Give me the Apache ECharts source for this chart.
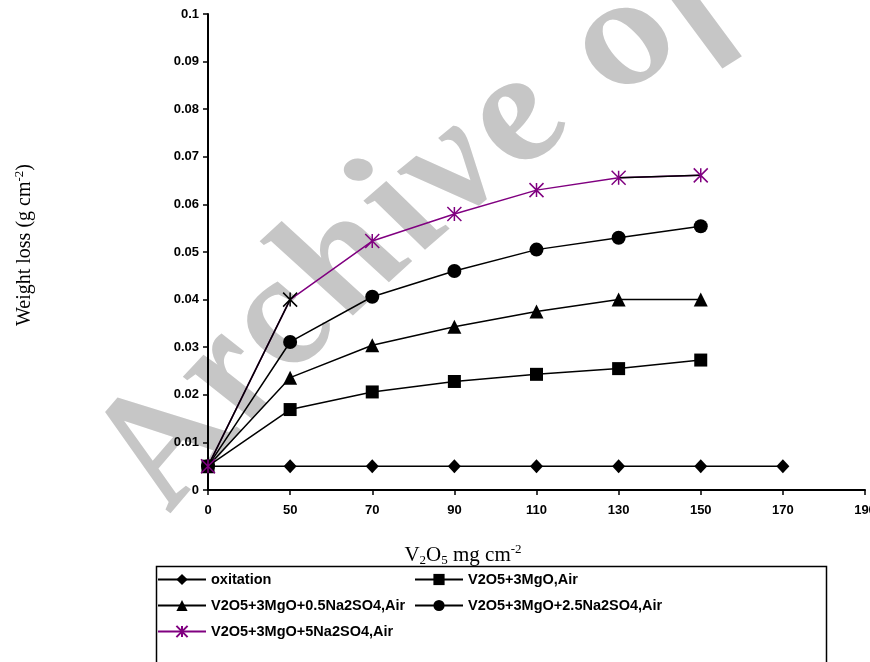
<!DOCTYPE html>
<html>
<head>
<meta charset="utf-8">
<script src="https://cdn.jsdelivr.net/npm/echarts@6/dist/echarts.min.js"></script>
<style>
html,body{margin:0;padding:0;background:#fff;}
#chart{width:870px;height:662px;}
</style>
</head>
<body>
<div id="chart"></div>
<script>
// ---- data ----
const categories = ['0', '50', '70', '90', '110', '130', '150', '170', '190'];
const yTicks = [0, 0.01, 0.02, 0.03, 0.04, 0.05, 0.06, 0.07, 0.08, 0.09, 0.1];
const seriesNames = ['oxitation', 'V2O5+3MgO,Air', 'V2O5+3MgO+0.5Na2SO4,Air', 'V2O5+3MgO+2.5Na2SO4,Air', 'V2O5+3MgO+5Na2SO4,Air'];
const oxitation = [0.005, 0.005, 0.005, 0.005, 0.005, 0.005, 0.005, 0.005];
const mgoAir = [0.005, 0.0169, 0.0206, 0.0228, 0.0243, 0.0255, 0.0273];
const na05Air = [0.005, 0.0236, 0.0304, 0.0343, 0.0375, 0.0400, 0.0400];
const na25Air = [0.005, 0.0311, 0.0406, 0.0460, 0.0505, 0.0530, 0.0554];
const na5Air = [0.005, 0.0400, 0.0523, 0.0580, 0.0630, 0.0656, 0.0661];
const watermark = 'Archive of SID';

// ---- chart ----
const chart = echarts.init(document.getElementById('chart'), null, {renderer: 'canvas'});
const PURPLE = '#800080';
const labelFont = {fontFamily: 'Liberation Sans, Arial', fontWeight: 'bold', fontSize: 13, color: '#000'};

// watermark letters along a gentle arc (drawn in a horizontally stretched group)
const wmScaleX = 1.3;
const wmFontSize = 148;
const wmFont = 'italic bold ' + wmFontSize + 'px "Liberation Serif"';
const ctx = document.createElement('canvas').getContext('2d');
ctx.font = wmFont;
const C = [1820, 1558], R = 1973;
let theta = Math.atan2(545 - C[1], 136 - C[0]) + 30 / R;
const wmChildren = [];
for (const ch of watermark) {
  const w = ctx.measureText(ch).width * 1.04;
  const tc = theta + (w / 2) / R;
  const nx = Math.cos(tc), ny = Math.sin(tc);
  const bx = C[0] + R * nx, by = C[1] + R * ny;
  const px = bx + nx * 0.34 * wmFontSize, py = by + ny * 0.34 * wmFontSize;
  const tx = -Math.sin(tc), ty = Math.cos(tc);
  if (ch !== ' ') {
    wmChildren.push({
      type: 'text', x: px, y: py, rotation: Math.atan2(-ty, tx), silent: true,
      style: {text: ch, font: wmFont, fill: '#c6c6c6', align: 'center', verticalAlign: 'middle'}
    });
  }
  theta += w / R;
}

function lineSeries(name, data, symbol, size, extra) {
  return Object.assign({
    name: name, type: 'line', data: data, symbol: symbol, symbolSize: size,
    showAllSymbol: true, animation: false,
    lineStyle: {color: '#000', width: 1.5},
    itemStyle: {color: '#000'}
  }, extra || {});
}

const starPath = 'path://M0,0 L0,20 M-10,0 L10,20 M-10,20 L10,0';
const legendText = {fontFamily: 'Liberation Sans, Arial', fontWeight: 'bold', fontSize: 14.5, color: '#000'};

const option = {
  backgroundColor: '#fff',
  animation: false,
  grid: {left: 208, right: 5, top: 14, bottom: 172, containLabel: false, outerBoundsMode: 'none'},
  xAxis: {
    type: 'category', data: categories, boundaryGap: false,
    axisLine: {lineStyle: {color: '#000', width: 2}},
    axisTick: {show: true, length: 5, lineStyle: {color: '#000', width: 1.5}},
    axisLabel: Object.assign({margin: 14, interval: 0}, labelFont),
    splitLine: {show: false},
    name: '{n|V}{s|2}{n|O}{s|5}{n| mg cm}{p|-2}',
    nameLocation: 'middle', nameGap: 53,
    nameTextStyle: {
      padding: [0, 147, 0, 0],
      rich: {
        n: {fontFamily: 'Liberation Serif', fontSize: 21, color: '#000', lineHeight: 24},
        s: {fontFamily: 'Liberation Serif', fontSize: 13, color: '#000', lineHeight: 12, verticalAlign: 'bottom'},
        p: {fontFamily: 'Liberation Serif', fontSize: 13, color: '#000', lineHeight: 12, verticalAlign: 'top'}
      }
    }
  },
  yAxis: {
    type: 'value', min: 0, max: 0.1, interval: 0.01,
    axisLine: {show: true, lineStyle: {color: '#000', width: 2}},
    axisTick: {show: true, length: 5, lineStyle: {color: '#000', width: 1.5}},
    axisLabel: Object.assign({margin: 9, formatter: v => {
      const t = yTicks.find(k => Math.abs(k - v) < 1e-9);
      return String(+(t !== undefined ? t : v).toFixed(2));
    }}, labelFont),
    splitLine: {show: false},
    name: '{n|Weight loss (g cm}{p|-2}{n|)}',
    nameLocation: 'middle', nameGap: 171,
    nameTextStyle: {
      padding: [0, 0, 0, 14],
      rich: {
        n: {fontFamily: 'Liberation Serif', fontSize: 20, color: '#000', lineHeight: 24},
        p: {fontFamily: 'Liberation Serif', fontSize: 13, color: '#000', lineHeight: 12, verticalAlign: 'top'}
      }
    }
  },
  legend: [
    {
      data: [seriesNames[0], seriesNames[2], seriesNames[4]],
      orient: 'vertical', left: 157, top: 572, padding: 0, itemWidth: 48, itemHeight: 14, itemGap: 11,
      textStyle: legendText, selectedMode: false
    },
    {
      data: [seriesNames[1], seriesNames[3]],
      orient: 'vertical', left: 414, top: 572, padding: 0, itemWidth: 48, itemHeight: 14, itemGap: 11,
      textStyle: legendText, selectedMode: false
    }
  ],
  graphic: {elements: [
    {type: 'group', x: 0, y: 0, scaleX: wmScaleX, z: -10, silent: true, children: wmChildren},
    {type: 'rect', shape: {x: 156.5, y: 566.5, width: 670, height: 110}, z: 1,
      style: {fill: 'none', stroke: '#000', lineWidth: 1.5}, silent: true}
  ]},
  series: [
    lineSeries(seriesNames[0], oxitation, 'diamond', [13, 14]),
    lineSeries(seriesNames[1], mgoAir, 'rect', 13),
    lineSeries(seriesNames[2], na05Air, 'triangle', 14),
    lineSeries(seriesNames[3], na25Air, 'circle', 14),
    lineSeries(seriesNames[4], na5Air.map((v, i) => i === 1 ? {value: v, itemStyle: {color: '#000', borderColor: '#000'}} : v), starPath, 14, {
      lineStyle: {color: PURPLE, width: 1.5},
      itemStyle: {color: PURPLE, borderColor: PURPLE, borderWidth: 1.5}
    }),
    lineSeries('', na5Air.map((v, i) => i <= 1 ? v : null), 'none', 0, {z: 3, connectNulls: false}),
    lineSeries('', na5Air.map((v, i) => i >= 5 ? v : null), 'none', 0, {z: 3, connectNulls: false})
  ]
};
chart.setOption(option);
</script>
</body>
</html>
